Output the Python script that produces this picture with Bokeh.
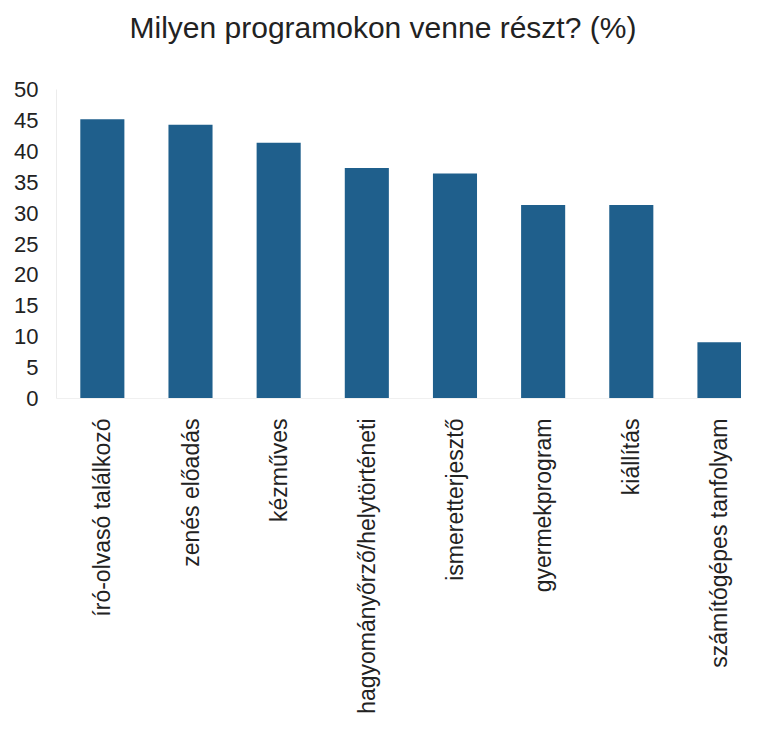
import math
from bokeh.plotting import figure
from bokeh.models import Range1d, FixedTicker, ColumnDataSource, Title
from bokeh.embed import file_html
from bokeh.resources import INLINE

title_text = "Milyen programokon venne részt? (%)"
categories = ["író-olvasó találkozó", "zenés előadás", "kézműves",
              "hagyományőrző/helytörténeti", "ismeretterjesztő",
              "gyermekprogram", "kiállítás", "számítógépes tanfolyam"]
values = [45.2, 44.3, 41.4, 37.3, 36.4, 31.3, 31.3, 9.1]
y_ticks = [0, 5, 10, 15, 20, 25, 30, 35, 40, 45, 50]

positions = list(range(len(categories)))
src = ColumnDataSource(dict(x=positions, top=values))

FONT = "Liberation Sans"

p = figure(width=741, height=716, output_backend="svg", toolbar_location=None,
           x_range=Range1d(-0.52, 7.25), y_range=Range1d(0, 50),
           min_border_left=56, min_border_right=0, min_border_top=88,
           min_border_bottom=0)
p.title.text = ""
p.title.standoff = 0

# spacer between title and plot frame
spacer = Title(text="\u00a0", text_font=FONT, text_font_size="10px", standoff=25,
               text_color="white")
p.add_layout(spacer, "above")

main_title = Title(text=title_text, text_font=FONT, text_font_size="30px",
                   text_font_style="normal", text_color="#222222",
                   align="left", offset=73, standoff=16)
p.add_layout(main_title, "above")

p.vbar(x="x", top="top", width=0.5, bottom=0, source=src,
       fill_color="#1f5f8c", line_color=None)

p.outline_line_color = None
p.xgrid.grid_line_color = None
p.ygrid.grid_line_color = None

p.yaxis.ticker = FixedTicker(ticks=y_ticks)
p.yaxis.minor_tick_line_color = None
p.yaxis.major_tick_out = 0
p.yaxis.major_tick_in = 0
p.yaxis.major_label_standoff = 18
p.yaxis.axis_line_color = "#ececec"
p.yaxis.major_label_text_font = FONT
p.yaxis.major_label_text_font_size = "22px"
p.yaxis.major_label_text_color = "#222222"

p.xaxis.ticker = FixedTicker(ticks=positions)
p.xaxis.major_label_overrides = {i: c for i, c in zip(positions, categories)}
p.xaxis.major_label_orientation = math.pi / 2
p.xaxis.minor_tick_line_color = None
p.xaxis.major_tick_out = 0
p.xaxis.major_tick_in = 0
p.xaxis.major_label_standoff = 20
p.xaxis.axis_line_color = "#f0f0f0"
p.xaxis.major_label_text_font = FONT
p.xaxis.major_label_text_font_size = "23px"
p.xaxis.major_label_text_color = "#222222"

p.background_fill_color = "white"
p.border_fill_color = "white"

open("out.html", "w").write(file_html(p, INLINE))
